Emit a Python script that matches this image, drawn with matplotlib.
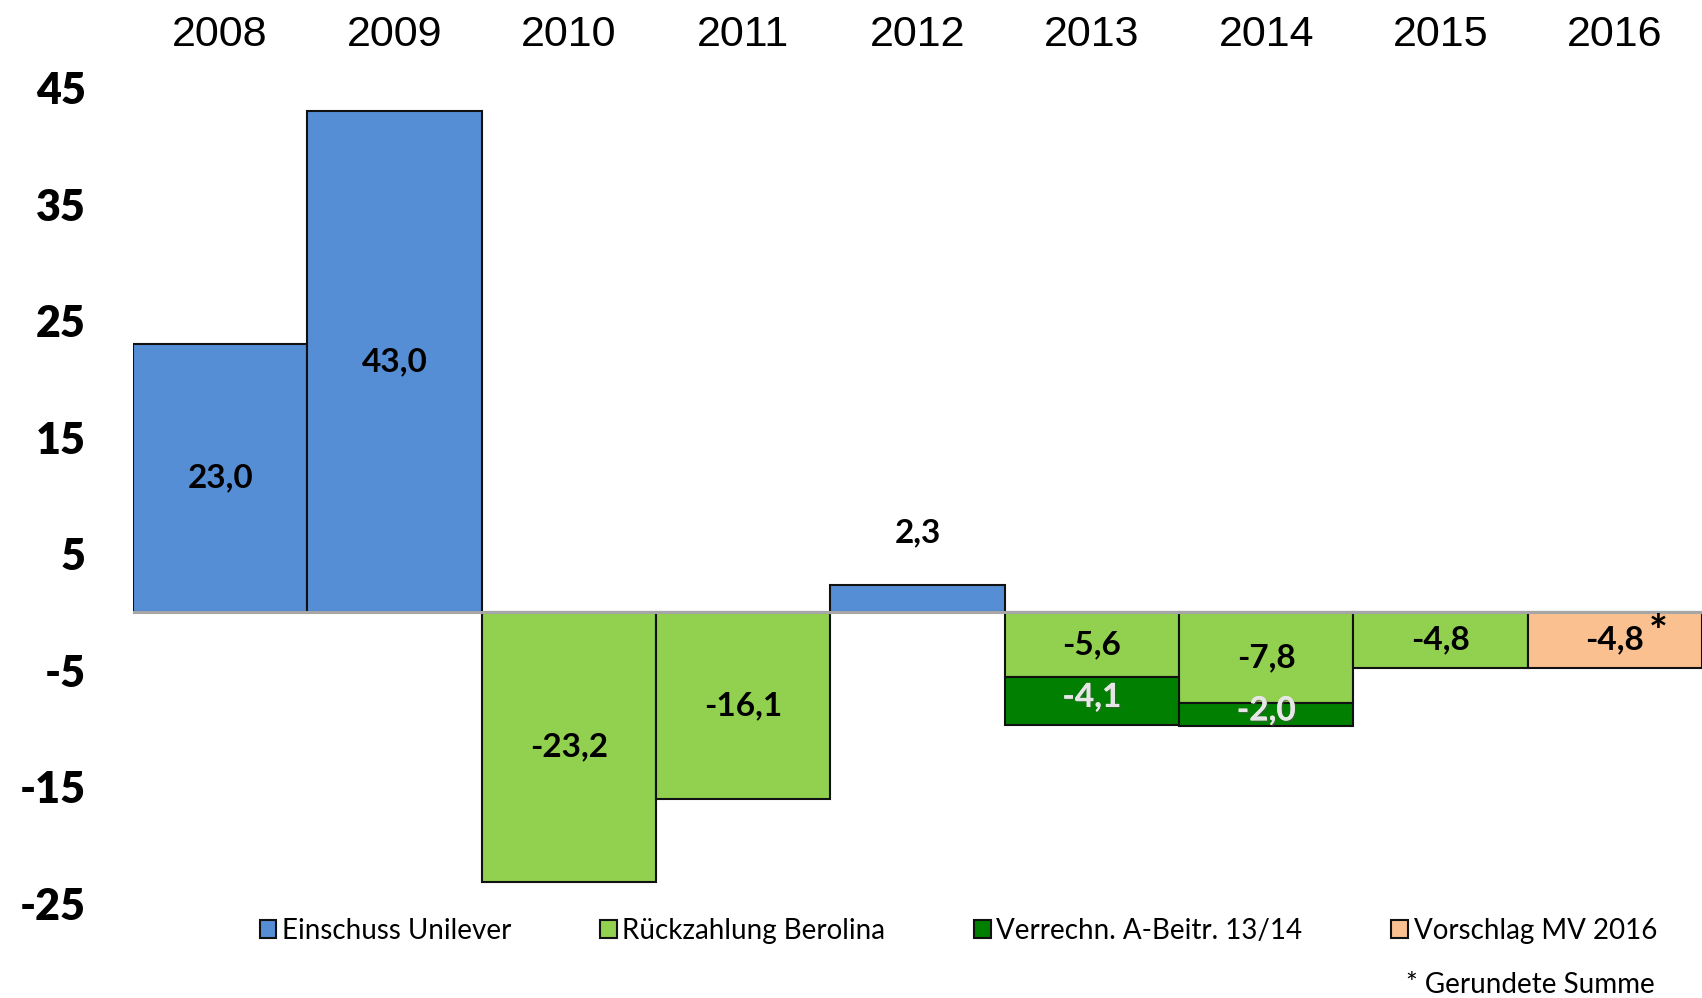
import numpy as np
import matplotlib
matplotlib.use("Agg")
import matplotlib.pyplot as plt
import matplotlib.patheffects as pe

years = ["2008", "2009", "2010", "2011", "2012", "2013", "2014", "2015", "2016"]
einschuss = [23.0, 43.0, 0, 0, 2.3, 0, 0, 0, 0]
rueckzahlung = [0, 0, -23.2, -16.1, 0, -5.6, -7.8, -4.8, 0]
verrechnung = [0, 0, 0, 0, 0, -4.1, -2.0, 0, 0]
vorschlag = [0, 0, 0, 0, 0, 0, 0, 0, -4.8]
yticks = [45, 35, 25, 15, 5, -5, -15, -25]

c_blue = "#558ed5"
c_lgreen = "#92d050"
c_dgreen = "#007f00"
c_orange = "#fac090"

def fmt(v):
    return ("%.1f" % v).replace(".", ",")

fig = plt.figure(figsize=(17.02, 9.98), dpi=100)
ax = fig.add_axes([133/1702, 1 - 903/998, 1569/1702, 815/998])

x = np.arange(len(years))
ein = np.array(einschuss)
rue = np.array(rueckzahlung)
ver = np.array(verrechnung)
vor = np.array(vorschlag)

kw = dict(width=1.0, edgecolor="#111111", linewidth=1.5, zorder=2)
m = ein != 0
ax.bar(x[m], ein[m], color=c_blue, label="Einschuss Unilever", **kw)
m = rue != 0
ax.bar(x[m], rue[m], color=c_lgreen, label="Rückzahlung Berolina", **kw)
m = ver != 0
ax.bar(x[m], ver[m], bottom=rue[m], color=c_dgreen, label="Verrechn. A-Beitr. 13/14", **kw)
m = vor != 0
ax.bar(x[m], vor[m], color=c_orange, label="Vorschlag MV 2016", **kw)

ax.axhline(0, color="#a6a6a6", linewidth=2.2, zorder=3)

lab = dict(ha="center", va="center", fontsize=24, fontweight="bold",
           family="Lato", color="black", zorder=4)
for i in range(len(years)):
    if ein[i] != 0:
        if ein[i] > 10:
            ax.text(x[i], ein[i] / 2, fmt(ein[i]), **lab)
        else:
            ax.text(x[i], ein[i] + 4.5, fmt(ein[i]), **lab)
    if rue[i] != 0:
        ax.text(x[i], rue[i] / 2, fmt(rue[i]), **lab)
    if ver[i] != 0:
        t = ax.text(x[i], rue[i] + ver[i] / 2 + 0.3, fmt(ver[i]),
                    **{**lab, "color": "#e6e6e6"})
        t.set_path_effects([pe.withSimplePatchShadow(offset=(1, -1), shadow_rgbFace="#555555", alpha=0.5),
                            pe.Normal()])
    if vor[i] != 0:
        ax.text(x[i], vor[i] / 2, fmt(vor[i]), **lab)
        ax.annotate("*", (x[i], vor[i] / 2), xytext=(31, 5), textcoords="offset points",
                    ha="center", va="center", fontsize=32, fontweight="bold",
                    family="Lato", zorder=4)

ax.set_xlim(-0.5, len(years) - 0.5)
ax.set_ylim(-25, 45)
ax.set_yticks(yticks)
ax.set_yticklabels([str(v) for v in yticks], fontsize=31, fontweight="heavy", family="Lato")
ax.xaxis.tick_top()
ax.set_xticks(x)
ax.set_xticklabels(years, fontsize=31, family="Liberation Sans")
ax.tick_params(axis="both", length=0)
ax.tick_params(axis="y", pad=34)
ax.tick_params(axis="x", pad=24)
for s in ax.spines.values():
    s.set_visible(False)

fig.legend(loc="center", bbox_to_anchor=(0.563, 1 - 931/998), ncol=4, frameon=False,
           prop={"family": "Lato", "size": 20}, handlelength=0.6, handleheight=0.6,
           handletextpad=0.2, columnspacing=3.2)
fig.text(1655/1702, 1 - 985/998, "* Gerundete Summe", ha="right", va="center",
         fontsize=20, family="Lato")

fig.savefig("out.png", dpi=100)
